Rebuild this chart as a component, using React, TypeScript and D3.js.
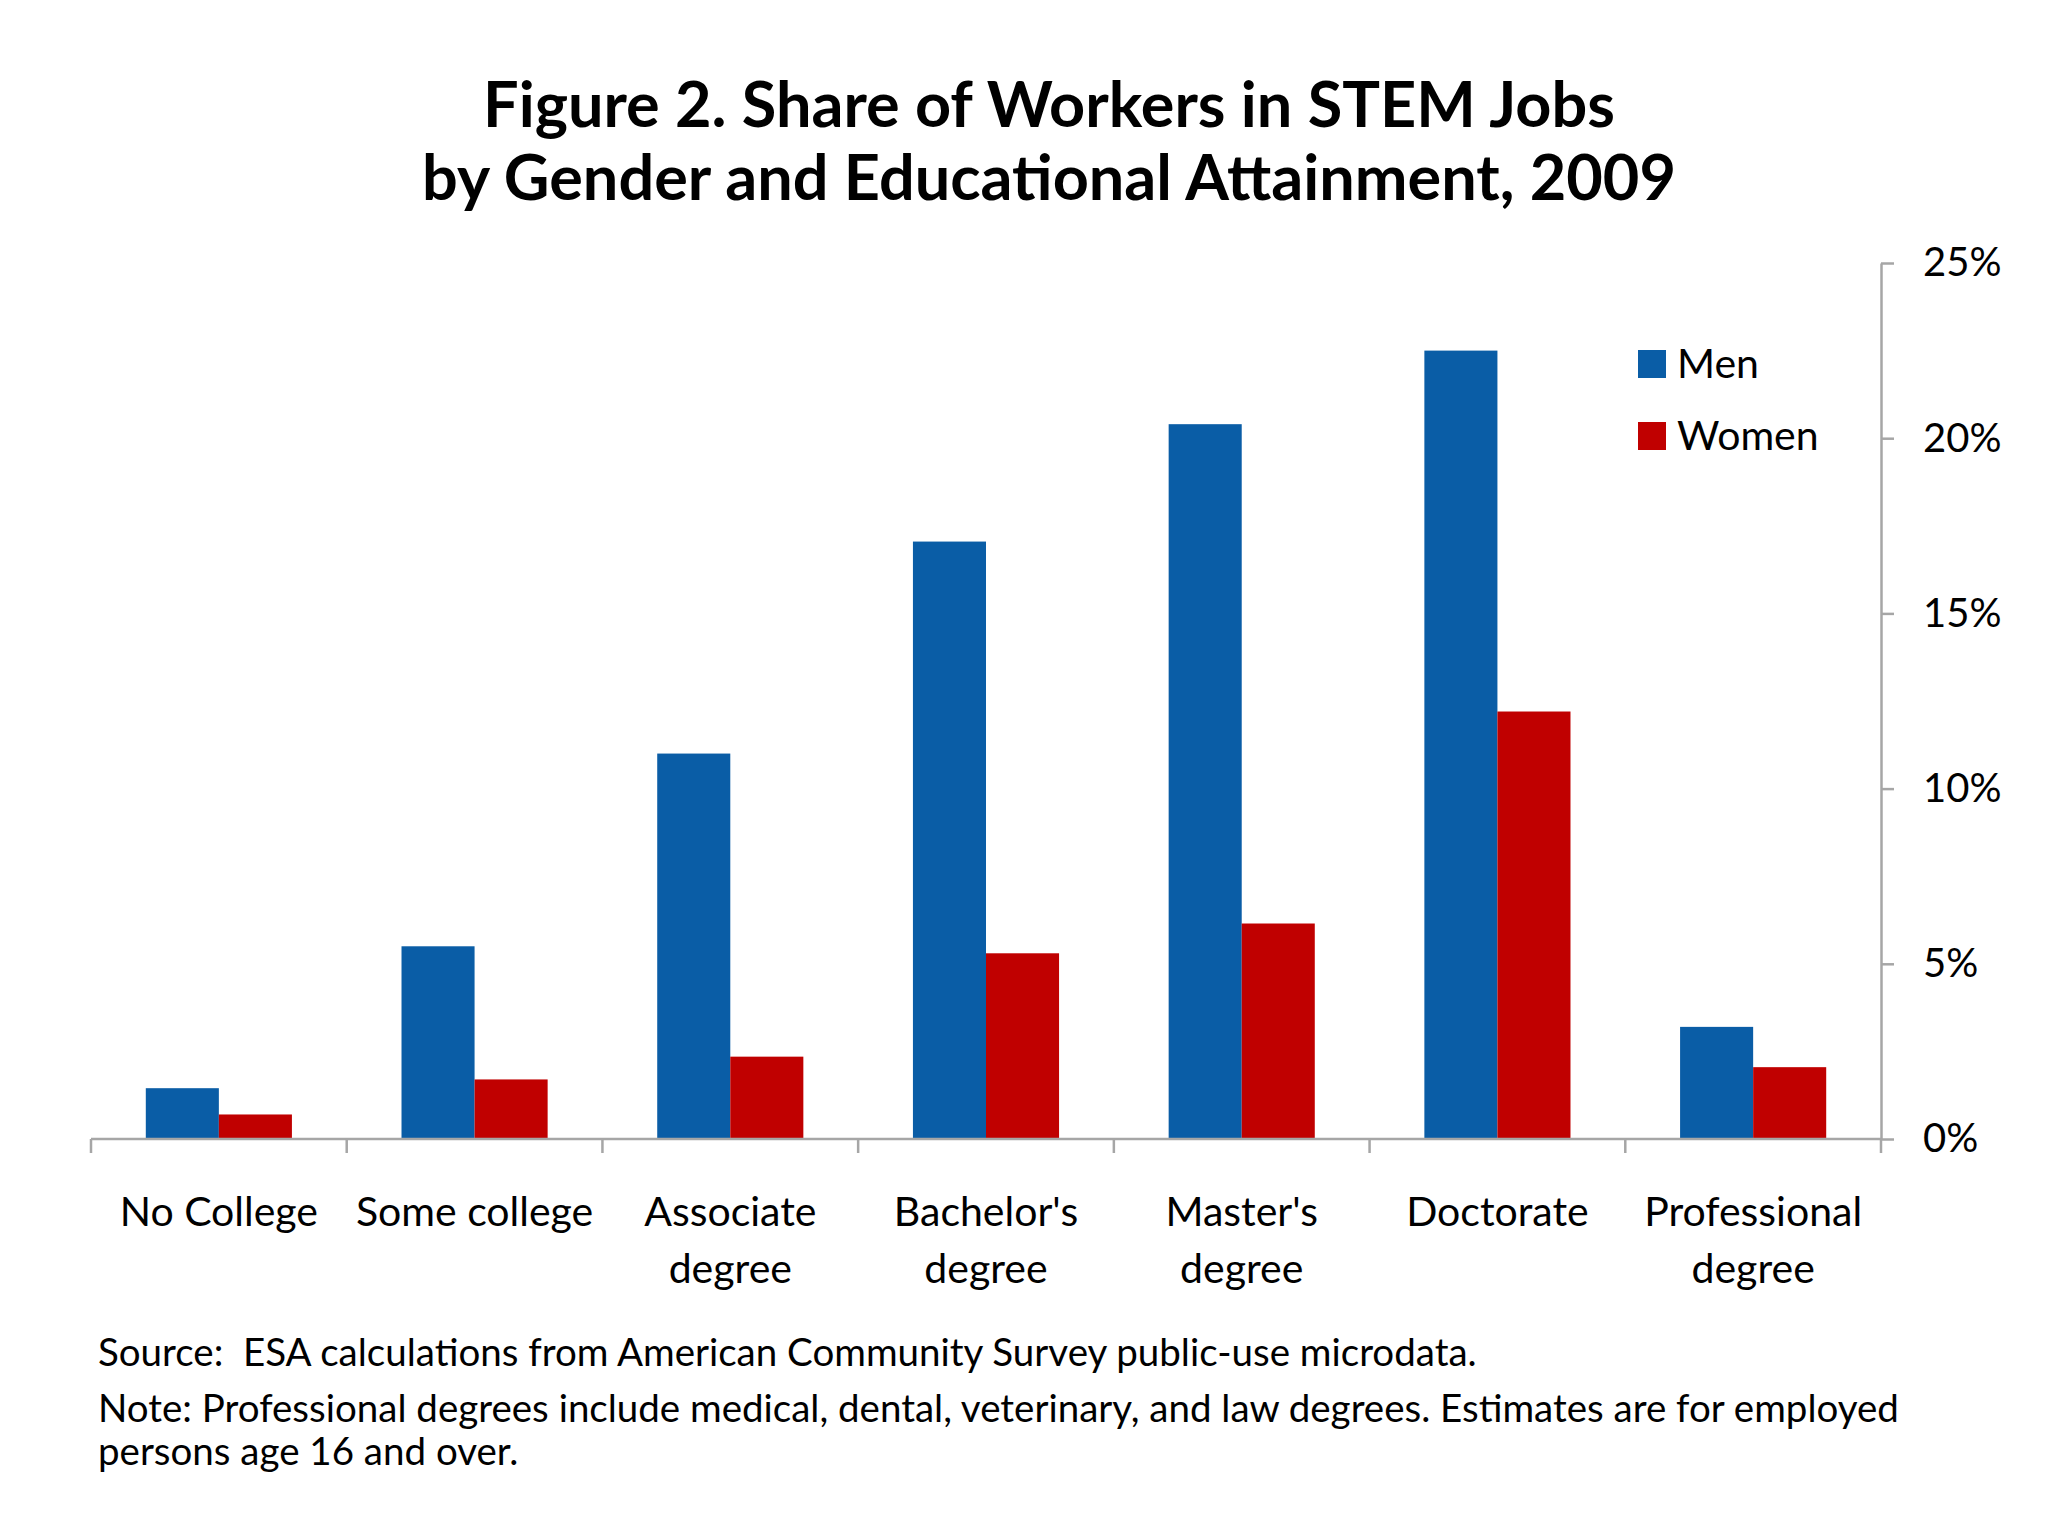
import * as d3 from 'd3';
import React, { useEffect, useRef } from 'react';

const CATEGORIES = ["No College", "Some college", "Associate degree", "Bachelor's degree", "Master's degree", "Doctorate", "Professional degree"];
const CATEGORY_LINES = [["No College"], ["Some college"], ["Associate", "degree"], ["Bachelor's", "degree"], ["Master's", "degree"], ["Doctorate"], ["Professional", "degree"]];
const SERIES = ["Men", "Women"];
const MEN = [1.45, 5.5, 11.0, 17.05, 20.4, 22.5, 3.2];
const WOMEN = [0.7, 1.7, 2.35, 5.3, 6.15, 12.2, 2.05];
const Y_TICKS = [0, 5, 10, 15, 20, 25];
const TITLE_LINES = ["Figure 2. Share of Workers in STEM Jobs", "by Gender and Educational Attainment, 2009"];
const SOURCE_LINE = "Source:  ESA calculations from American Community Survey public-use microdata.";
const NOTE_LINES = ["Note: Professional degrees include medical, dental, veterinary, and law degrees. Estimates are for employed", "persons age 16 and over."];

const COLORS: Record<string, string> = { Men: "#0A5DA6", Women: "#C00000" };
const FONT = "Lato, 'Open Sans', sans-serif";
const AXIS_GRAY = "#A6A6A6";

const App: React.FC = () => {
  const svgRef = useRef<SVGSVGElement>(null);

  useEffect(() => {
    if (!svgRef.current) { return; }
    const svg = d3.select(svgRef.current);
    svg.selectAll("*").remove();

    const width = 2048;
    const height = 1536;
    const left = 91;
    const right = 1881;
    const top = 263;
    const bottom = 1139;

    svg.append("rect").attr("width", width).attr("height", height).attr("fill", "#ffffff");

    // Title
    svg.append("g").selectAll("text")
      .data(TITLE_LINES)
      .enter().append("text")
      .attr("x", 1049)
      .attr("y", (_, i) => 127 + i * 73)
      .attr("text-anchor", "middle")
      .attr("font-family", FONT)
      .attr("font-weight", "bold")
      .attr("font-size", 63)
      .attr("fill", "#000")
      .text(d => d);

    // Scales
    const x0 = d3.scaleBand<string>().domain(CATEGORIES).range([left, right]).padding(0);
    const x1 = d3.scaleBand<string>().domain(SERIES).range([0, x0.bandwidth()]).paddingInner(0).paddingOuter(0.75);
    const y = d3.scaleLinear().domain([0, 25]).range([bottom, top]);

    const rows = CATEGORIES.map((c, i) => ({ category: c, Men: MEN[i], Women: WOMEN[i] }));

    // Bars
    const groups = svg.append("g").selectAll("g")
      .data(rows)
      .enter().append("g")
      .attr("transform", d => `translate(${x0(d.category)},0)`);

    groups.selectAll("rect")
      .data(d => SERIES.map(s => ({ key: s, value: (d as any)[s] as number })))
      .enter().append("rect")
      .attr("x", d => x1(d.key)!)
      .attr("y", d => y(d.value))
      .attr("width", x1.bandwidth())
      .attr("height", d => bottom - y(d.value))
      .attr("fill", d => COLORS[d.key]);

    // X axis line and ticks
    const xAxis = svg.append("g");
    xAxis.append("line")
      .attr("x1", left).attr("x2", right)
      .attr("y1", bottom).attr("y2", bottom)
      .attr("stroke", AXIS_GRAY).attr("stroke-width", 2.5);
    const boundaries = CATEGORIES.map(c => x0(c)!).concat([right]);
    xAxis.selectAll(".xtick")
      .data(boundaries)
      .enter().append("line")
      .attr("class", "xtick")
      .attr("x1", d => d).attr("x2", d => d)
      .attr("y1", bottom).attr("y2", bottom + 14)
      .attr("stroke", AXIS_GRAY).attr("stroke-width", 2.5);

    // X labels
    const labels = xAxis.selectAll(".xlabel")
      .data(CATEGORY_LINES)
      .enter().append("text")
      .attr("class", "xlabel")
      .attr("text-anchor", "middle")
      .attr("font-family", FONT)
      .attr("font-size", 41)
      .attr("fill", "#000")
      .attr("transform", (_, i) => `translate(${x0(CATEGORIES[i])! + x0.bandwidth() / 2},0)`);
    labels.selectAll("tspan")
      .data(d => d)
      .enter().append("tspan")
      .attr("x", 0)
      .attr("y", (_, i) => 1226 + i * 57)
      .text(d => d);

    // Y axis on the right
    svg.append("g")
      .attr("transform", `translate(${right},0)`)
      .call(d3.axisRight(y)
        .tickValues(Y_TICKS)
        .tickSize(13)
        .tickSizeOuter(0)
        .tickPadding(29)
        .tickFormat(d => `${d}%`))
      .call(g => g.select(".domain").attr("stroke", AXIS_GRAY).attr("stroke-width", 2.5))
      .call(g => g.selectAll(".tick line").attr("stroke", AXIS_GRAY).attr("stroke-width", 2.5))
      .call(g => g.selectAll(".tick text")
        .attr("font-family", FONT)
        .attr("font-size", 40)
        .attr("fill", "#000"));

    // Legend
    const legend = svg.append("g").attr("transform", "translate(1638,350)");
    const items = legend.selectAll("g")
      .data(SERIES)
      .enter().append("g")
      .attr("transform", (_, i) => `translate(0,${i * 72})`);
    items.append("rect")
      .attr("width", 28).attr("height", 28)
      .attr("fill", d => COLORS[d]);
    items.append("text")
      .attr("x", 39).attr("y", 28)
      .attr("font-family", FONT)
      .attr("font-size", 41)
      .attr("fill", "#000")
      .text(d => d);

    // Source and note
    svg.append("text")
      .attr("x", 98).attr("y", 1366)
      .attr("font-family", FONT)
      .attr("font-size", 38.5)
      .attr("fill", "#000")
      .attr("xml:space", "preserve")
      .style("white-space", "pre")
      .text(SOURCE_LINE);
    svg.append("g").selectAll("text")
      .data(NOTE_LINES)
      .enter().append("text")
      .attr("x", 98)
      .attr("y", (_, i) => 1422 + i * 43)
      .attr("font-family", FONT)
      .attr("font-size", 38.5)
      .attr("fill", "#000")
      .text(d => d);
  }, []);

  return (
    <div style={{ position: "absolute", left: 0, top: 0 }}>
      <svg ref={svgRef} width={2048} height={1536} style={{ display: "block" }} />
    </div>
  );
};

export default App;
